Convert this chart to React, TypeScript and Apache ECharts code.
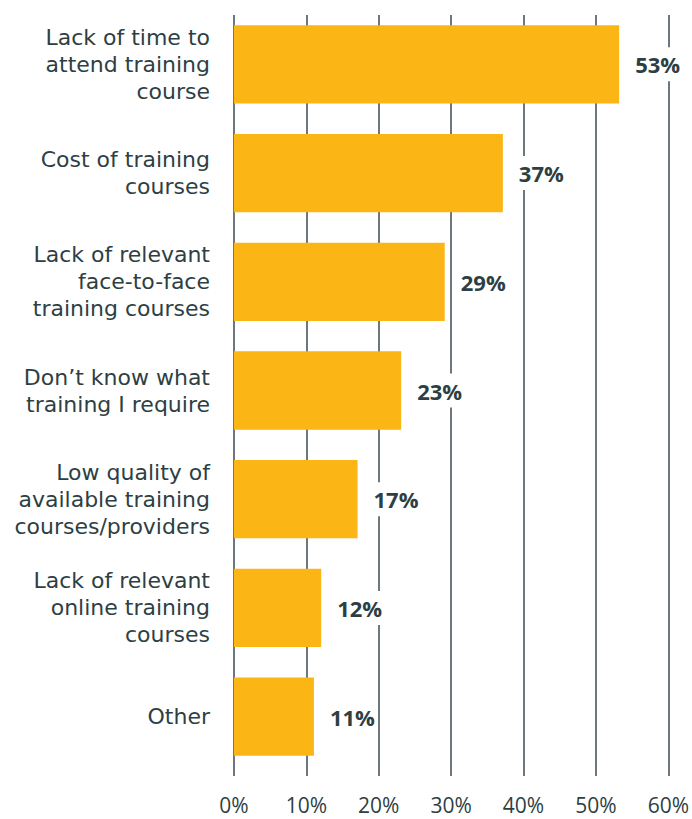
import React, { useEffect, useRef } from "react";
import * as echarts from "echarts";

const categories = [
  "Lack of time to\nattend training\ncourse",
  "Cost of training\ncourses",
  "Lack of relevant\nface-to-face\ntraining courses",
  "Don’t know what\ntraining I require",
  "Low quality of\navailable training\ncourses/providers",
  "Lack of relevant\nonline training\ncourses",
  "Other",
];
const values = [53, 37, 29, 23, 17, 12, 11];
const xTicks = [0, 10, 20, 30, 40, 50, 60];

export default function App() {
  const ref = useRef<HTMLDivElement>(null);
  useEffect(() => {
    if (!ref.current) return;
    const chart = echarts.init(ref.current, null, { renderer: "svg" });
    const textColor = "#2e3f44";
    const font = "Open Sans";
    chart.setOption({
      animation: false,
      grid: [
        { left: 234, right: 22, top: 15, bottom: 43 },
        { left: 234, right: 22, top: 10, bottom: 48 },
      ],
      xAxis: [
        {
          type: "value",
          gridIndex: 0,
          min: 0,
          max: 60,
          interval: 10,
          axisLine: { show: false },
          axisTick: { show: false },
          splitLine: { show: true, lineStyle: { color: "#3d4b50", width: 1.5 } },
          axisLabel: {
            formatter: (v: number) => (xTicks.includes(v) ? v + "%" : ""),
            color: textColor,
            fontFamily: font,
            fontSize: 21,
            margin: 18,
          },
        },
        {
          type: "value",
          gridIndex: 1,
          min: 0,
          max: 60,
          interval: 10,
          show: false,
          splitLine: { show: false },
        },
      ],
      yAxis: [
        {
          type: "category",
          gridIndex: 0,
          data: categories,
          show: false,
        },
        {
          type: "category",
          gridIndex: 1,
          data: categories,
          inverse: true,
          axisLine: { show: false },
          axisTick: { show: false },
          splitLine: { show: false },
          axisLabel: {
            color: textColor,
            fontFamily: "DejaVu Sans",
            fontSize: 22,
            lineHeight: 27,
            align: "right",
            margin: 24,
          },
        },
      ],
      series: [
        {
          type: "bar",
          xAxisIndex: 1,
          yAxisIndex: 1,
          data: values,
          barCategoryGap: "28%",
          itemStyle: { color: "#FBB515" },
          label: {
            show: true,
            position: "right",
            distance: 14,
            formatter: (p: any) => p.value + "%",
            color: textColor,
            fontFamily: font,
            fontWeight: "bold",
            fontSize: 22,
            backgroundColor: "#ffffff",
            padding: [6, 2],
          },
        },
      ],
    });
    return () => chart.dispose();
  }, []);
  return <div ref={ref} style={{ width: 692, height: 819, position: "absolute", left: 0, top: 0 }} />;
}
